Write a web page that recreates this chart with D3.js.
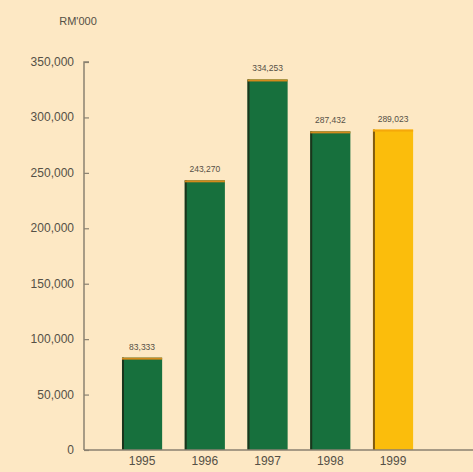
<!DOCTYPE html>
<html><head><meta charset="utf-8">
<script src="https://cdn.jsdelivr.net/npm/d3@7"></script>
<style>html,body{margin:0;padding:0;background:#fde8c4;}svg{display:block;}</style>
</head><body>
<script>
const years = ["1995","1996","1997","1998","1999"];
const values = [83333, 243270, 334253, 287432, 289023];
const valueLabels = ["83,333","243,270","334,253","287,432","289,023"];
const yTicks = [0,50000,100000,150000,200000,250000,300000,350000];
const barColors = ["#17703d","#17703d","#17703d","#17703d","#fbbd0c"];

const W = 473, H = 472;
const svg = d3.select("body").append("svg").attr("width", W).attr("height", H);
svg.append("rect").attr("width", W).attr("height", H).attr("fill", "#fde8c4");

const x = d3.scaleBand().domain(years).range([99.4, 435.7]).paddingInner(0.36).paddingOuter(0.36);
const y = d3.scaleLinear().domain([0, 350000]).range([450, 62]);
const axisColor = "#8a8170";
const textColor = "#555046";

// bars
const g = svg.append("g");
years.forEach((yr, i) => {
  const bx = x(yr), bw = x.bandwidth(), top = y(values[i]), h = y(0) - top;
  g.append("rect").attr("x", bx).attr("y", top).attr("width", bw).attr("height", h).attr("fill", barColors[i]);
  // dark left edge
  g.append("rect").attr("x", bx).attr("y", top).attr("width", 2).attr("height", h).attr("fill", i === 4 ? "#6b4a10" : "#1c2a16").attr("opacity", 0.85);
  // orange top edge
  g.append("rect").attr("x", bx).attr("y", top).attr("width", bw).attr("height", 2).attr("fill", i === 4 ? "#f5a80a" : "#d48a1c");
  g.append("text").attr("x", bx + bw / 2).attr("y", top - 8).attr("text-anchor", "middle")
    .attr("font-family", "Liberation Sans, Arial, sans-serif").attr("font-size", 8.5).attr("fill", textColor)
    .text(valueLabels[i]);
});

// y axis
const yAxis = d3.axisRight(y).tickValues(yTicks).tickSize(5).tickFormat("");
const ya = svg.append("g").attr("transform", "translate(84,0)").call(yAxis);
ya.select(".domain").attr("stroke", axisColor).attr("stroke-width", 1.5).attr("d", `M5,${y(350000)}H0V${y(0)}`);
ya.selectAll(".tick line").attr("stroke", axisColor).attr("stroke-width", 1.2);
svg.append("g").selectAll("text").data(yTicks).join("text")
  .attr("x", 74).attr("y", d => y(d) + 4).attr("text-anchor", "end")
  .attr("font-family", "Liberation Sans, Arial, sans-serif").attr("font-size", 12).attr("fill", textColor)
  .text(d => d3.format(",")(d));

// x axis
const xAxis = d3.axisBottom(x).tickSize(0).tickPadding(6);
const xa = svg.append("g").attr("transform", "translate(0,450)").call(xAxis);
xa.select(".domain").attr("stroke", axisColor).attr("stroke-width", 1.5).attr("d", `M84,0H473`);
xa.selectAll("text").attr("font-family", "Liberation Sans, Arial, sans-serif").attr("font-size", 12).attr("fill", textColor);

svg.append("text").attr("x", 78).attr("y", 25).attr("text-anchor", "middle")
  .attr("font-family", "Liberation Sans, Arial, sans-serif").attr("font-size", 11).attr("fill", textColor).text("RM'000");
</script>
</body></html>
